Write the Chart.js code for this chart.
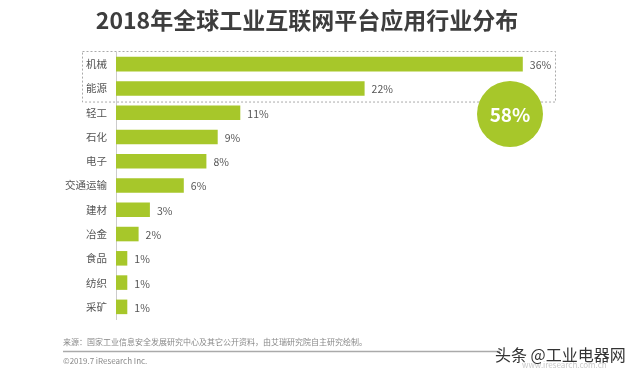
<!DOCTYPE html>
<html>
<head>
<meta charset="utf-8">
<script src="https://cdn.jsdelivr.net/npm/chart.js@4"></script>
<style>
    html, body { margin: 0; padding: 0; background: #fff; }
    #wrap { position: relative; width: 640px; height: 373px; }
</style>
</head>
<body>
<div id="wrap"><canvas id="chart" width="640" height="373"></canvas></div>
<script>
const FONT = '"Noto Sans CJK SC", "Noto Sans", sans-serif';

const titleText = '2018年全球工业互联网平台应用行业分布';
const categories = ['机械', '能源', '轻工', '石化', '电子', '交通运输', '建材', '冶金', '食品', '纺织', '采矿'];
const shares = [36, 22, 11, 9, 8, 6, 3, 2, 1, 1, 1];
const highlightCount = 2;
const highlightText = '58%';
const sourceText = '来源：国家工业信息安全发展研究中心及其它公开资料，由艾瑞研究院自主研究绘制。';
const copyrightText = '©2019.7 iResearch Inc.';
const watermarkText = '头条 @工业电器网';
const siteText = 'www.iresearch.com.cn';

const barColor = '#a7c72a';

const decorPlugin = {
    id: 'decor',
    afterDatasetsDraw(chart) {
        const ctx = chart.ctx;
        const meta = chart.getDatasetMeta(0);
        const yScale = chart.scales.y;
        const step = yScale.getPixelForValue(1) - yScale.getPixelForValue(0);

        // value labels
        ctx.save();
        ctx.font = '10.5px ' + FONT;
        ctx.fillStyle = '#555';
        ctx.textBaseline = 'middle';
        ctx.textAlign = 'left';
        meta.data.forEach((bar, i) => {
            ctx.fillText(shares[i] + '%', bar.x + 7, bar.y + 1);
        });
        ctx.restore();

        // dashed box around the top group
        const top = yScale.getPixelForValue(0) - step / 2 - 1;
        const bottom = yScale.getPixelForValue(highlightCount - 1) + step / 2 + 1;
        ctx.save();
        ctx.strokeStyle = '#aaa';
        ctx.lineWidth = 1;
        ctx.setLineDash([2, 2]);
        ctx.strokeRect(82.5, top + 0.5, 473, bottom - top);
        ctx.restore();

        // circle badge
        ctx.save();
        ctx.beginPath();
        ctx.arc(510, 114, 33, 0, Math.PI * 2);
        ctx.fillStyle = barColor;
        ctx.fill();
        ctx.font = 'bold 19px ' + FONT;
        ctx.fillStyle = '#fff';
        ctx.textAlign = 'center';
        ctx.textBaseline = 'middle';
        ctx.fillText(highlightText, 510, 115);
        ctx.restore();
    },
    afterDraw(chart) {
        const ctx = chart.ctx;
        ctx.save();
        ctx.font = 'bold 23px ' + FONT;
        ctx.fillStyle = '#3d3d3d';
        ctx.textAlign = 'center';
        ctx.textBaseline = 'middle';
        ctx.fillText(titleText, 307, 20);

        ctx.textAlign = 'left';
        ctx.font = '8px ' + FONT;
        ctx.fillStyle = '#888';
        ctx.fillText(sourceText, 63, 342);
        ctx.fillText(copyrightText, 63, 361);

        ctx.strokeStyle = '#aaa';
        ctx.lineWidth = 1.5;
        ctx.beginPath();
        ctx.moveTo(63, 351.5);
        ctx.lineTo(500, 351.5);
        ctx.stroke();

        ctx.font = '8px ' + FONT;
        ctx.fillStyle = '#c8c8c8';
        ctx.fillText(siteText, 522, 365);

        ctx.font = '16px ' + FONT;
        ctx.fillStyle = '#333';
        ctx.fillText(watermarkText, 495, 355);
        ctx.restore();
    }
};

new Chart(document.getElementById('chart'), {
    type: 'bar',
    data: {
        labels: categories,
        datasets: [{
            data: shares,
            backgroundColor: barColor,
            barPercentage: 0.6,
            categoryPercentage: 1
        }]
    },
    options: {
        indexAxis: 'y',
        responsive: false,
        animation: false,
        layout: { padding: { top: 52, bottom: 54, left: 0, right: 72 } },
        plugins: {
            legend: { display: false },
            tooltip: { enabled: false }
        },
        scales: {
            x: { display: false, min: 0, max: 40 },
            y: {
                afterFit(scale) { scale.width = 116; },
                grid: { display: false, drawTicks: false },
                border: { display: true, color: '#ccc' },
                ticks: { color: '#555', font: { family: FONT, size: 10.5 }, padding: 9 }
            }
        }
    },
    plugins: [decorPlugin]
});
</script>
</body>
</html>
